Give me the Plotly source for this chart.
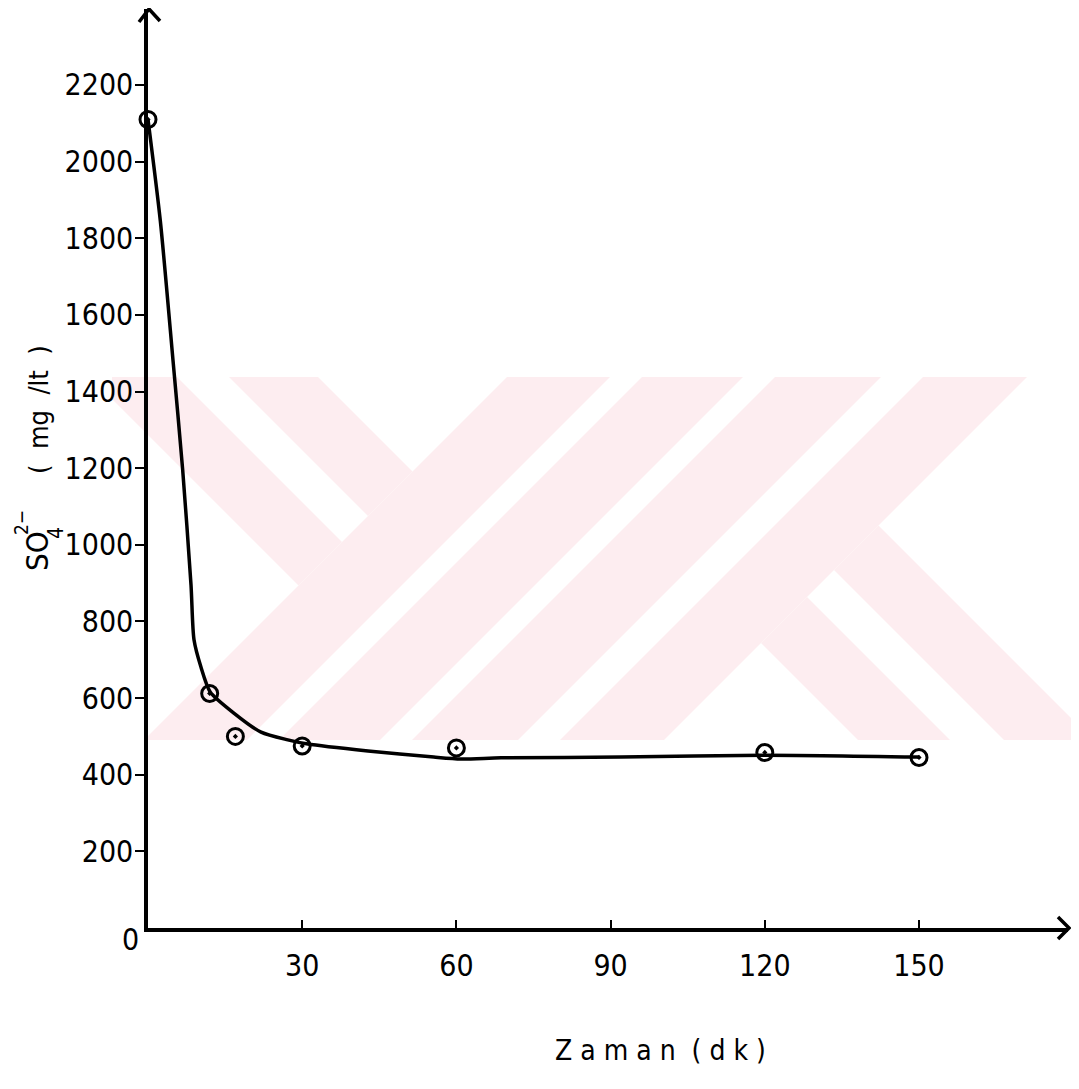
import plotly.graph_objects as go

# ---------------- data ----------------
time_min = [0, 12, 17, 30, 60, 120, 150]
sulfate_mg_l = [2110, 612, 500, 475, 470, 458, 445]

# hand-drawn smooth curve through the measurements
curve_t = [0, 2.4, 4.86, 6.75, 8.37, 8.95, 10.3, 12.1, 16.7, 22.0, 27.2, 31.1, 42.8, 55.6, 60.9, 68.7, 92, 120.2, 150]
curve_v = [2110, 1845, 1482, 1195, 895, 752, 681, 616, 561, 511, 491, 480, 462, 446, 441, 444, 446, 451, 446]

x_ticks = [30, 60, 90, 120, 150]
y_ticks = [200, 400, 600, 800, 1000, 1200, 1400, 1600, 1800, 2000, 2200]

# ---------------- page geometry ----------------
PAGE_OFF = 8                      # default body margin of the html page
W, H = 1079 - 2 * PAGE_OFF, 1089 - 2 * PAGE_OFF
# plot area in page pixels
L, R, T, B = 148, 1068, 9, 928
X_PER_UNIT = 5.14
Y_PER_UNIT = 0.3832
x_max = (R - L) / X_PER_UNIT
y_max = (B - T) / Y_PER_UNIT


def pp(x, y):
    """page pixel -> paper coordinates"""
    return (x - L) / (R - L), (B - y) / (B - T)


def path(points, close=True):
    s = ""
    for i, (x, y) in enumerate(points):
        a, b = pp(x, y)
        s += ("M" if i == 0 else "L") + f"{a:.5f},{b:.5f} "
    return s + ("Z" if close else "")


FONT = "Liberation Sans Narrow, DejaVu Sans Condensed, Arial Narrow, sans-serif"
PINK = "#fdedf0"

# faint watermark logo polygons (page pixel space)
watermark = [
    [(112, 377), (177, 377), (342, 542), (298.5, 585.5), (112, 399)],
    [(229, 377), (318, 377), (412.5, 471.5), (368, 516)],
    [(507, 377), (610, 377), (247, 740), (144, 740)],
    [(642, 377), (743, 377), (380, 740), (279, 740)],
    [(775, 377), (881, 377), (518, 740), (412, 740)],
    [(923, 377), (1027, 377), (664, 740), (560, 740)],
    [(807, 597), (950, 740), (858, 740), (761, 643)],
    [(878.5, 525.5), (1071, 718), (1071, 740), (1004, 740), (834, 570)],
]

shapes = []
for poly in watermark:
    shapes.append(dict(type="path", xref="paper", yref="paper", path=path(poly),
                       fillcolor=PINK, line=dict(width=0), layer="below"))

# axis arrow heads
shapes.append(dict(type="path", xref="paper", yref="paper",
                   path=path([(139, 22), (149, 9), (160, 21)], close=False),
                   line=dict(color="black", width=3.5)))
shapes.append(dict(type="path", xref="paper", yref="paper",
                   path=path([(1058, 917), (1069, 928), (1058, 939)], close=False),
                   line=dict(color="black", width=3.5)))

fig = go.Figure()

fig.add_trace(go.Scatter(
    x=curve_t, y=curve_v, mode="lines",
    line=dict(color="black", width=3.5, shape="spline", smoothing=0.7),
    hoverinfo="skip", showlegend=False, cliponaxis=False))

fig.add_trace(go.Scatter(
    x=time_min, y=sulfate_mg_l, mode="markers",
    marker=dict(symbol="circle-open-dot", size=16, color="black",
                line=dict(color="black", width=3)),
    showlegend=False, cliponaxis=False))


def ann(text, x, y, size, angle=0):
    a, b = pp(x, y)
    return dict(text=text, x=a, y=b, xref="paper", yref="paper", showarrow=False,
                xanchor="center", yanchor="middle", textangle=angle,
                font=dict(family=FONT, size=size, color="black"))


annotations = [
    ann("0", 130, 940, 30),
    ann("SO", 37, 551, 31, -90),
    ann("4", 56, 533, 21, -90),
    ann("2−", 21, 522, 19, -90),
    ann("(  mg  /lt  )", 38, 410, 27, -90),
    ann("Z a m a n  ( d k )", 660, 1050, 28),
]

fig.update_layout(
    width=W, height=H,
    margin=dict(l=L - PAGE_OFF, r=W - (R - PAGE_OFF), t=T - PAGE_OFF, b=H - (B - PAGE_OFF), pad=0),
    paper_bgcolor="white", plot_bgcolor="rgba(0,0,0,0)",
    showlegend=False,
    shapes=shapes,
    annotations=annotations,
    xaxis=dict(range=[0, x_max], tickvals=x_ticks, ticktext=[str(v) for v in x_ticks],
               showline=True, linecolor="black", linewidth=3.5,
               ticks="inside", ticklen=8, tickwidth=2, tickcolor="black",
               ticklabelstandoff=8,
               showgrid=False, zeroline=False,
               tickfont=dict(family=FONT, size=30, color="black")),
    yaxis=dict(range=[0, y_max], tickvals=y_ticks, ticktext=[str(v) for v in y_ticks],
               showline=True, linecolor="black", linewidth=3.5,
               ticks="outside", ticklen=9, tickwidth=2, tickcolor="black",
               ticklabelstandoff=-4,
               showgrid=False, zeroline=False,
               tickfont=dict(family=FONT, size=30, color="black")),
)

fig.write_html("out.html")
